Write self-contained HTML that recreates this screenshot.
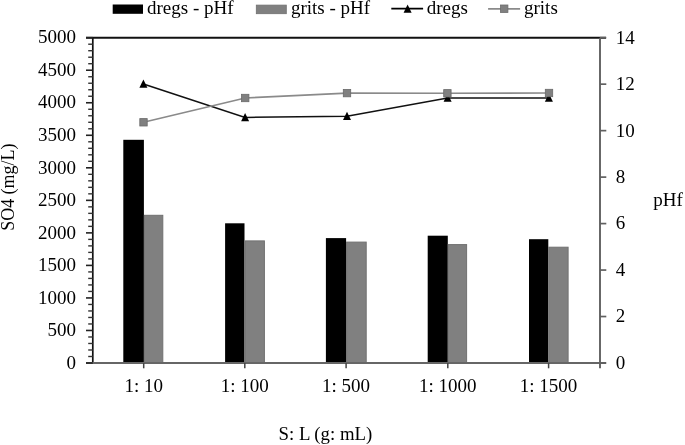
<!DOCTYPE html>
<html><head><meta charset="utf-8"><title>chart</title>
<style>html,body{margin:0;padding:0;background:#fff;width:685px;height:445px;overflow:hidden;font-family:"Liberation Serif",serif;}svg{display:block;filter:blur(0.5px);}</style>
</head><body>
<svg width="685" height="445" viewBox="0 0 685 445">
<rect width="685" height="445" fill="#fff"/>
<rect x="123.3" y="139.8" width="20.60" height="223.20" fill="#000"/>
<rect x="144.40" y="215.30" width="18.40" height="147.70" fill="#808080" stroke="#707070" stroke-width="1"/>
<rect x="225.1" y="223.3" width="19.40" height="139.70" fill="#000"/>
<rect x="245.00" y="240.90" width="19.40" height="122.10" fill="#808080" stroke="#707070" stroke-width="1"/>
<rect x="325.9" y="238.1" width="20.20" height="124.90" fill="#000"/>
<rect x="346.60" y="242.10" width="19.60" height="120.90" fill="#808080" stroke="#707070" stroke-width="1"/>
<rect x="427.7" y="235.7" width="20.10" height="127.30" fill="#000"/>
<rect x="448.30" y="244.60" width="18.30" height="118.40" fill="#808080" stroke="#707070" stroke-width="1"/>
<rect x="529.0" y="239.2" width="19.30" height="123.80" fill="#000"/>
<rect x="548.80" y="247.20" width="19.30" height="115.80" fill="#808080" stroke="#707070" stroke-width="1"/>
<line x1="92.8" y1="37.7" x2="92.8" y2="363.0" stroke="#111" stroke-width="1.7"/>
<line x1="86" y1="37.7" x2="606" y2="37.7" stroke="#111" stroke-width="2"/>
<line x1="86" y1="363.0" x2="606" y2="363.0" stroke="#666" stroke-width="2"/>
<line x1="600.0" y1="37.7" x2="600.0" y2="368.3" stroke="#606060" stroke-width="1.9"/>
<line x1="86" y1="363.00" x2="92.8" y2="363.00" stroke="#222" stroke-width="1.6"/>
<line x1="88.2" y1="356.49" x2="92.8" y2="356.49" stroke="#333" stroke-width="1.4"/>
<line x1="88.2" y1="349.99" x2="92.8" y2="349.99" stroke="#333" stroke-width="1.4"/>
<line x1="88.2" y1="343.48" x2="92.8" y2="343.48" stroke="#333" stroke-width="1.4"/>
<line x1="88.2" y1="336.98" x2="92.8" y2="336.98" stroke="#333" stroke-width="1.4"/>
<line x1="86" y1="330.47" x2="92.8" y2="330.47" stroke="#222" stroke-width="1.6"/>
<line x1="88.2" y1="323.96" x2="92.8" y2="323.96" stroke="#333" stroke-width="1.4"/>
<line x1="88.2" y1="317.46" x2="92.8" y2="317.46" stroke="#333" stroke-width="1.4"/>
<line x1="88.2" y1="310.95" x2="92.8" y2="310.95" stroke="#333" stroke-width="1.4"/>
<line x1="88.2" y1="304.45" x2="92.8" y2="304.45" stroke="#333" stroke-width="1.4"/>
<line x1="86" y1="297.94" x2="92.8" y2="297.94" stroke="#222" stroke-width="1.6"/>
<line x1="88.2" y1="291.43" x2="92.8" y2="291.43" stroke="#333" stroke-width="1.4"/>
<line x1="88.2" y1="284.93" x2="92.8" y2="284.93" stroke="#333" stroke-width="1.4"/>
<line x1="88.2" y1="278.42" x2="92.8" y2="278.42" stroke="#333" stroke-width="1.4"/>
<line x1="88.2" y1="271.92" x2="92.8" y2="271.92" stroke="#333" stroke-width="1.4"/>
<line x1="86" y1="265.41" x2="92.8" y2="265.41" stroke="#222" stroke-width="1.6"/>
<line x1="88.2" y1="258.90" x2="92.8" y2="258.90" stroke="#333" stroke-width="1.4"/>
<line x1="88.2" y1="252.40" x2="92.8" y2="252.40" stroke="#333" stroke-width="1.4"/>
<line x1="88.2" y1="245.89" x2="92.8" y2="245.89" stroke="#333" stroke-width="1.4"/>
<line x1="88.2" y1="239.39" x2="92.8" y2="239.39" stroke="#333" stroke-width="1.4"/>
<line x1="86" y1="232.88" x2="92.8" y2="232.88" stroke="#222" stroke-width="1.6"/>
<line x1="88.2" y1="226.37" x2="92.8" y2="226.37" stroke="#333" stroke-width="1.4"/>
<line x1="88.2" y1="219.87" x2="92.8" y2="219.87" stroke="#333" stroke-width="1.4"/>
<line x1="88.2" y1="213.36" x2="92.8" y2="213.36" stroke="#333" stroke-width="1.4"/>
<line x1="88.2" y1="206.86" x2="92.8" y2="206.86" stroke="#333" stroke-width="1.4"/>
<line x1="86" y1="200.35" x2="92.8" y2="200.35" stroke="#222" stroke-width="1.6"/>
<line x1="88.2" y1="193.84" x2="92.8" y2="193.84" stroke="#333" stroke-width="1.4"/>
<line x1="88.2" y1="187.34" x2="92.8" y2="187.34" stroke="#333" stroke-width="1.4"/>
<line x1="88.2" y1="180.83" x2="92.8" y2="180.83" stroke="#333" stroke-width="1.4"/>
<line x1="88.2" y1="174.33" x2="92.8" y2="174.33" stroke="#333" stroke-width="1.4"/>
<line x1="86" y1="167.82" x2="92.8" y2="167.82" stroke="#222" stroke-width="1.6"/>
<line x1="88.2" y1="161.31" x2="92.8" y2="161.31" stroke="#333" stroke-width="1.4"/>
<line x1="88.2" y1="154.81" x2="92.8" y2="154.81" stroke="#333" stroke-width="1.4"/>
<line x1="88.2" y1="148.30" x2="92.8" y2="148.30" stroke="#333" stroke-width="1.4"/>
<line x1="88.2" y1="141.80" x2="92.8" y2="141.80" stroke="#333" stroke-width="1.4"/>
<line x1="86" y1="135.29" x2="92.8" y2="135.29" stroke="#222" stroke-width="1.6"/>
<line x1="88.2" y1="128.78" x2="92.8" y2="128.78" stroke="#333" stroke-width="1.4"/>
<line x1="88.2" y1="122.28" x2="92.8" y2="122.28" stroke="#333" stroke-width="1.4"/>
<line x1="88.2" y1="115.77" x2="92.8" y2="115.77" stroke="#333" stroke-width="1.4"/>
<line x1="88.2" y1="109.27" x2="92.8" y2="109.27" stroke="#333" stroke-width="1.4"/>
<line x1="86" y1="102.76" x2="92.8" y2="102.76" stroke="#222" stroke-width="1.6"/>
<line x1="88.2" y1="96.25" x2="92.8" y2="96.25" stroke="#333" stroke-width="1.4"/>
<line x1="88.2" y1="89.75" x2="92.8" y2="89.75" stroke="#333" stroke-width="1.4"/>
<line x1="88.2" y1="83.24" x2="92.8" y2="83.24" stroke="#333" stroke-width="1.4"/>
<line x1="88.2" y1="76.74" x2="92.8" y2="76.74" stroke="#333" stroke-width="1.4"/>
<line x1="86" y1="70.23" x2="92.8" y2="70.23" stroke="#222" stroke-width="1.6"/>
<line x1="88.2" y1="63.72" x2="92.8" y2="63.72" stroke="#333" stroke-width="1.4"/>
<line x1="88.2" y1="57.22" x2="92.8" y2="57.22" stroke="#333" stroke-width="1.4"/>
<line x1="88.2" y1="50.71" x2="92.8" y2="50.71" stroke="#333" stroke-width="1.4"/>
<line x1="88.2" y1="44.21" x2="92.8" y2="44.21" stroke="#333" stroke-width="1.4"/>
<line x1="86" y1="37.70" x2="92.8" y2="37.70" stroke="#222" stroke-width="1.6"/>
<line x1="600.0" y1="363.00" x2="606.3" y2="363.00" stroke="#606060" stroke-width="1.7"/>
<line x1="600.0" y1="316.53" x2="606.3" y2="316.53" stroke="#606060" stroke-width="1.7"/>
<line x1="600.0" y1="270.06" x2="606.3" y2="270.06" stroke="#606060" stroke-width="1.7"/>
<line x1="600.0" y1="223.59" x2="606.3" y2="223.59" stroke="#606060" stroke-width="1.7"/>
<line x1="600.0" y1="177.11" x2="606.3" y2="177.11" stroke="#606060" stroke-width="1.7"/>
<line x1="600.0" y1="130.64" x2="606.3" y2="130.64" stroke="#606060" stroke-width="1.7"/>
<line x1="600.0" y1="84.17" x2="606.3" y2="84.17" stroke="#606060" stroke-width="1.7"/>
<line x1="600.0" y1="37.70" x2="606.3" y2="37.70" stroke="#606060" stroke-width="1.7"/>
<line x1="143.7" y1="363.0" x2="143.7" y2="368.3" stroke="#444" stroke-width="1.5"/>
<line x1="244.8" y1="363.0" x2="244.8" y2="368.3" stroke="#444" stroke-width="1.5"/>
<line x1="346.1" y1="363.0" x2="346.1" y2="368.3" stroke="#444" stroke-width="1.5"/>
<line x1="447.8" y1="363.0" x2="447.8" y2="368.3" stroke="#444" stroke-width="1.5"/>
<line x1="548.6" y1="363.0" x2="548.6" y2="368.3" stroke="#444" stroke-width="1.5"/>
<polyline points="143.4,84.0 245.1,117.4 347.0,116.2 447.6,98.0 548.9,98.0" fill="none" stroke="#111" stroke-width="1.5"/>
<polygon points="143.40,79.60 147.40,87.80 139.40,87.80" fill="#000"/>
<polygon points="245.10,113.00 249.10,121.20 241.10,121.20" fill="#000"/>
<polygon points="347.00,111.80 351.00,120.00 343.00,120.00" fill="#000"/>
<polygon points="447.60,93.60 451.60,101.80 443.60,101.80" fill="#000"/>
<polygon points="548.90,93.60 552.90,101.80 544.90,101.80" fill="#000"/>
<polyline points="143.5,122.3 245.2,98.0 347.0,93.1 447.4,93.3 549.0,93.0" fill="none" stroke="#8a8a8a" stroke-width="1.6"/>
<rect x="139.80" y="118.60" width="7.4" height="7.4" fill="#808080" stroke="#6a6a6a" stroke-width="0.8"/>
<rect x="241.50" y="94.30" width="7.4" height="7.4" fill="#808080" stroke="#6a6a6a" stroke-width="0.8"/>
<rect x="343.30" y="89.40" width="7.4" height="7.4" fill="#808080" stroke="#6a6a6a" stroke-width="0.8"/>
<rect x="443.70" y="89.60" width="7.4" height="7.4" fill="#808080" stroke="#6a6a6a" stroke-width="0.8"/>
<rect x="545.30" y="89.30" width="7.4" height="7.4" fill="#808080" stroke="#6a6a6a" stroke-width="0.8"/>
<rect x="112.7" y="4.5" width="30.3" height="9.3" fill="#000"/>
<rect x="256.3" y="5.1" width="30" height="8.6" fill="#808080" stroke="#707070" stroke-width="0.8"/>
<line x1="391.3" y1="8.6" x2="423.1" y2="8.6" stroke="#000" stroke-width="1.6"/>
<polygon points="407.60,4.50 411.60,12.70 403.60,12.70" fill="#000"/>
<line x1="488.1" y1="8.8" x2="520.1" y2="8.8" stroke="#8a8a8a" stroke-width="1.8"/>
<rect x="500.50" y="5.00" width="7.4" height="7.4" fill="#808080" stroke="#6a6a6a" stroke-width="0.8"/>
<g style='font-family:"Liberation Serif", serif;font-size:19px;fill:#000'>
<text x="76.0" y="368.70" text-anchor="end" >0</text>
<text x="76.0" y="336.17" text-anchor="end" >500</text>
<text x="76.0" y="303.64" text-anchor="end" >1000</text>
<text x="76.0" y="271.11" text-anchor="end" >1500</text>
<text x="76.0" y="238.58" text-anchor="end" >2000</text>
<text x="76.0" y="206.05" text-anchor="end" >2500</text>
<text x="76.0" y="173.52" text-anchor="end" >3000</text>
<text x="76.0" y="140.99" text-anchor="end" >3500</text>
<text x="76.0" y="108.46" text-anchor="end" >4000</text>
<text x="76.0" y="75.93" text-anchor="end" >4500</text>
<text x="76.0" y="43.40" text-anchor="end" >5000</text>
<text x="615.8" y="368.90" text-anchor="start" >0</text>
<text x="615.8" y="322.43" text-anchor="start" >2</text>
<text x="615.8" y="275.96" text-anchor="start" >4</text>
<text x="615.8" y="229.49" text-anchor="start" >6</text>
<text x="615.8" y="183.01" text-anchor="start" >8</text>
<text x="615.8" y="136.54" text-anchor="start" >10</text>
<text x="615.8" y="90.07" text-anchor="start" >12</text>
<text x="615.8" y="43.60" text-anchor="start" >14</text>
<text x="143.7" y="391.8" text-anchor="middle" >1: 10</text>
<text x="244.8" y="391.8" text-anchor="middle" >1: 100</text>
<text x="346.1" y="391.8" text-anchor="middle" >1: 500</text>
<text x="447.8" y="391.8" text-anchor="middle" >1: 1000</text>
<text x="548.6" y="391.8" text-anchor="middle" >1: 1500</text>
<text x="325.4" y="439.8" text-anchor="middle" style="font-size:18.8px">S: L (g: mL)</text>
<text x="653.2" y="206.3" text-anchor="start" >pHf</text>
<text x="0" y="0" text-anchor="middle" transform="translate(14.1,187.2) rotate(-90) scale(0.945,1)">SO4 (mg/L)</text>
<text x="147.0" y="14.1" text-anchor="start" >dregs - pHf</text>
<text x="290.9" y="14.1" text-anchor="start" >grits - pHf</text>
<text x="426.8" y="14.1" text-anchor="start" >dregs</text>
<text x="524.0" y="14.1" text-anchor="start" >grits</text>
</g>
</svg>
</body></html>
